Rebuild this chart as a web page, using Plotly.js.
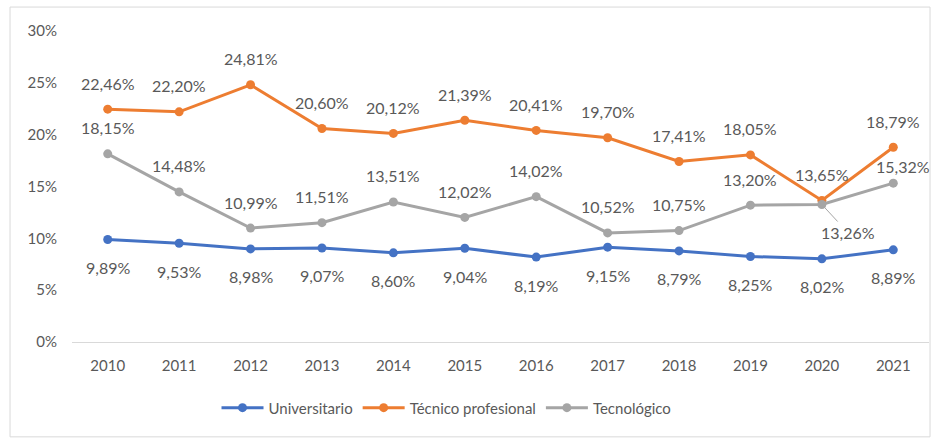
<!DOCTYPE html>
<html>
<head>
<meta charset="utf-8">
<script src="https://cdn.plot.ly/plotly-3.0.1.min.js"></script>
<style>html,body{margin:0;padding:0;background:#fff;}#chart{width:938px;height:440px;}</style>
</head>
<body>
<div id="chart"></div>
<script>
var years = ["2010","2011","2012","2013","2014","2015","2016","2017","2018","2019","2020","2021"];
var universitario = [9.89, 9.53, 8.98, 9.07, 8.60, 9.04, 8.19, 9.15, 8.79, 8.25, 8.02, 8.89];
var tecnicoProfesional = [22.46, 22.20, 24.81, 20.60, 20.12, 21.39, 20.41, 19.70, 17.41, 18.05, 13.65, 18.79];
var tecnologico = [18.15, 14.48, 10.99, 11.51, 13.51, 12.02, 14.02, 10.52, 10.75, 13.20, 13.26, 15.32];
var yTickVals = [0, 5, 10, 15, 20, 25, 30];
var yTickText = ["0%", "5%", "10%", "15%", "20%", "25%", "30%"];

var FONT = "Lato, 'Open Sans', sans-serif";
var TXT = "#595959";
var series = [
  {name: "Universitario", y: universitario, color: "#4472C4", shift: -28},
  {name: "Técnico profesional", y: tecnicoProfesional, color: "#ED7D31", shift: 26},
  {name: "Tecnológico", y: tecnologico, color: "#A5A5A5", shift: 26}
];
function fmt(v){ return v.toFixed(2).replace(".", ",") + "%"; }

var traces = series.map(function(s){
  return {
    type: "scatter", mode: "lines+markers", name: s.name,
    x: years, y: s.y,
    line: {color: s.color, width: 3},
    marker: {color: s.color, size: 9, symbol: "circle"},
    hoverinfo: "skip"
  };
});

var annots = [];
series.forEach(function(s, si){
  s.y.forEach(function(v, i){
    var a = {xref: "x", yref: "y", x: i, y: v, text: fmt(v),
      font: {family: FONT, size: 16, color: TXT}};
    if (si === 2 && years[i] === "2020") {
      a.showarrow = true; a.arrowhead = 0; a.arrowwidth = 1; a.arrowcolor = "#A5A5A5";
      a.ax = 26; a.ay = 28;
    } else if (si === 2 && years[i] === "2021") {
      a.showarrow = false; a.yshift = 17; a.xshift = 10;
    } else {
      a.showarrow = false; a.yshift = s.shift;
    }
    annots.push(a);
  });
});

var layout = {
  width: 938, height: 440,
  margin: {l: 72, r: 9, t: 31, b: 98},
  paper_bgcolor: "#ffffff", plot_bgcolor: "#ffffff",
  font: {family: FONT, size: 15, color: TXT},
  showlegend: true,
  legend: {orientation: "h", x: 0.437, xanchor: "center", y: -0.212, yanchor: "middle",
    itemwidth: 42, font: {family: FONT, size: 15, color: TXT}, traceorder: "normal"},
  xaxis: {type: "category", range: [-0.5, 11.5], showgrid: false, zeroline: false,
    showline: true, linecolor: "#d9d9d9", linewidth: 1, ticks: "",
    tickfont: {family: FONT, size: 15, color: TXT}, ticklabelstandoff: 10},
  yaxis: {range: [0, 30], tickvals: yTickVals, ticktext: yTickText, showgrid: false,
    zeroline: false, showline: false, ticks: "", ticklabelstandoff: 14,
    tickfont: {family: FONT, size: 15, color: TXT}},
  annotations: annots,
  shapes: [{type: "rect", xref: "paper", yref: "paper", x0: -0.0723, x1: 1.0012, y0: -0.305, y1: 1.077,
    line: {color: "#d9d9d9", width: 1}, fillcolor: "rgba(0,0,0,0)", layer: "below"}]
};

Plotly.newPlot("chart", traces, layout, {displayModeBar: false});
</script>
</body>
</html>
